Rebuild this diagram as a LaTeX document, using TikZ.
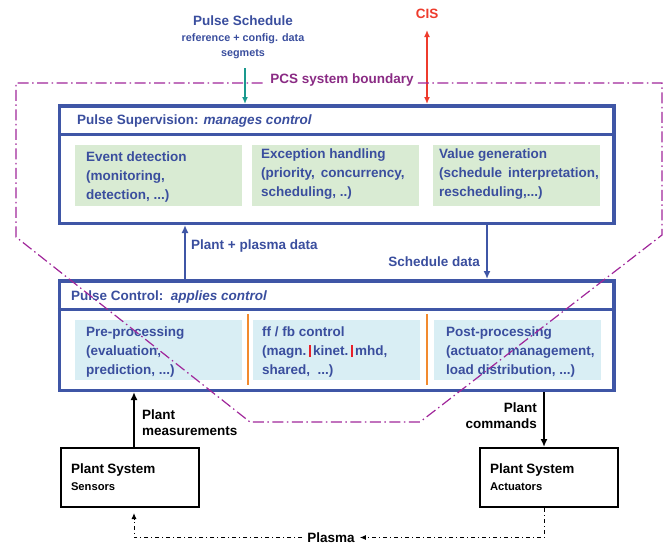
\documentclass[tikz,border=0pt]{standalone}
\usepackage{fontspec}
\setmainfont{Liberation Sans}
\usetikzlibrary{arrows.meta}

\definecolor{textblue}{HTML}{3A4E9E}
\definecolor{boxblue}{HTML}{3F56A6}
\definecolor{greenfill}{HTML}{D9EBD3}
\definecolor{bluefill}{HTML}{D9EEF4}
\definecolor{seporange}{HTML}{F28A2E}
\definecolor{barred}{HTML}{E8202A}
\definecolor{bndline}{HTML}{A0269A}
\definecolor{bndtext}{HTML}{8A2B84}
\definecolor{schedteal}{HTML}{1A998E}
\definecolor{cisred}{HTML}{EE3B2C}

% short red separator bar used inside the control box text
\newcommand{\ctlbar}{\textcolor{barred}{\rule[-1.5pt]{2.2pt}{12pt}}}

\tikzset{
  big/.style={font=\fontsize{13.5}{19}\selectfont\bfseries},
  small/.style={font=\fontsize{10.8}{15}\selectfont\bfseries},
  tier/.style={draw=boxblue, line width=3.5pt, inner sep=0pt},
  tierline/.style={draw=boxblue, line width=3pt},
  greenbox/.style={fill=greenfill, inner sep=0pt, anchor=north west},
  bluebox/.style={fill=bluefill, inner sep=0pt, anchor=north west},
  boxtext/.style={big, text=textblue, align=left, anchor=west, inner sep=0pt},
  bluearrow/.style={draw=boxblue, line width=2.8pt, -{Latex[length=8pt,width=7pt]}},
  blackarrow/.style={draw=black, line width=2pt, -{Latex[length=8pt,width=7pt]}},
  plantbox/.style={draw=black, line width=2pt, inner xsep=10pt, inner ysep=0pt,
    text width=118pt, align=left, minimum height=59pt, anchor=north west},
  plasmaline/.style={draw=black, line width=1pt,
    dash pattern=on 4pt off 3pt on 1pt off 3pt, -{Latex[length=6pt,width=5pt]}},
  boundary/.style={draw=bndline, line width=1.2pt,
    dash pattern=on 11pt off 3.5pt on 1.5pt off 3.5pt},
}

\begin{document}
\begin{tikzpicture}[x=1pt,y=-1pt]
\useasboundingbox (0,0) rectangle (671,546);

% ---- external sources ----
\node[big, text=textblue] (ps) at (243,21) {Pulse Schedule};
\node[small, text=textblue, align=center] (psdata) at (243,46.5) {reference + config. data\\segmets};
\node[big, text=cisred] (cis) at (427,14) {CIS};
\coordinate (psfoot) at (245,68);
\coordinate (cisfoot) at (427,30);

% ---- Pulse Supervision ----
\node[tier, minimum width=554.5pt, minimum height=117.5pt] (sup) at (336.75,164.5) {};
\coordinate (supsep) at (0,134);
\draw[tierline] (sup.west |- supsep) -- (sup.east |- supsep);
\node[big, text=textblue, anchor=west, inner sep=0pt] (suptitle) at (77,121)
  {Pulse Supervision: \textit{manages control}};

\node[greenbox, minimum width=167pt, minimum height=61pt] (ev) at (75,145) {};
\node[greenbox, minimum width=167pt, minimum height=61pt] (ex) at (252,145) {};
\node[greenbox, minimum width=167pt, minimum height=61pt] (vg) at (433,145) {};
\node[boxtext] (evt) at (86,177) {Event detection\\(monitoring,\\detection, ...)};
\node[boxtext] (ext) at (261,174) {Exception handling\\(priority,\ \,concurrency,\\scheduling, ..)};
\node[boxtext] (vgt) at (439,174) {Value generation\\(schedule\ \,interpretation,\\rescheduling,...)};

% ---- Pulse Control ----
\node[tier, minimum width=554.5pt, minimum height=109.5pt] (ctl) at (336.75,335.5) {};
\coordinate (ctlsep) at (0,309);
\draw[tierline] (ctl.west |- ctlsep) -- (ctl.east |- ctlsep);
\node[big, text=textblue, anchor=west, inner sep=0pt] (ctltitle) at (71,297)
  {Pulse Control:\ \ \textit{applies control}};

\node[bluebox, minimum width=167pt, minimum height=60pt] (pre) at (75,320) {};
\node[bluebox, minimum width=167pt, minimum height=60pt] (ff) at (253,320) {};
\node[bluebox, minimum width=167pt, minimum height=60pt] (post) at (434,320) {};
\node[boxtext] (pret) at (86,352) {Pre-processing\\(evaluation,\\prediction, ...)};
\node[boxtext] (fft) at (262,352) {ff / fb control\\(magn.\,\ctlbar\,kinet.\,\ctlbar\,mhd,\\shared,\ \ ...)};
\node[boxtext] (postt) at (446,352) {Post-processing\\(actuator management,\\load distribution, ...)};

\coordinate (o1) at (247.5,314);
\coordinate (o2) at (427,314);
\coordinate (obot) at (0,385);
\draw[seporange, line width=2pt] (o1) -- (o1 |- obot);
\draw[seporange, line width=2pt] (o2) -- (o2 |- obot);

% ---- data flow between the two tiers ----
\coordinate (upx) at (185,0);
\coordinate (downx) at (487,0);
\draw[bluearrow] (ctl.north -| upx) -- (sup.south -| upx);
\draw[bluearrow] (sup.south -| downx) -- (ctl.north -| downx);
\node[big, text=textblue, anchor=west, inner sep=0pt] (ppd) at (191,246) {Plant + plasma data};
\node[big, text=textblue, anchor=east, inner sep=0pt] (sd) at (480,262) {Schedule data};

% ---- inputs from the top ----
\draw[schedteal, line width=2pt, -{Latex[length=7pt,width=6pt]}] (psfoot) -- (sup.north -| psfoot);
\draw[cisred, line width=2pt, {Latex[length=7pt,width=6pt]}-{Latex[length=7pt,width=6pt]}] (cisfoot) -- (sup.north -| cisfoot);

% ---- plant systems ----
\node[plantbox] (sens) at (60,447) {\fontsize{13.5}{19}\selectfont\bfseries Plant System\\[5pt]\fontsize{11.2}{13}\selectfont\bfseries Sensors};
\node[plantbox] (act) at (479,447) {\fontsize{13.5}{19}\selectfont\bfseries Plant System\\[5pt]\fontsize{11.2}{13}\selectfont\bfseries Actuators};

\coordinate (mx) at (134,0);
\coordinate (cx) at (544,0);
\draw[blackarrow] (sens.north -| mx) -- (ctl.south -| mx);
\draw[blackarrow] (ctl.south -| cx) -- (act.north -| cx);
\node[big, align=left, anchor=west, inner sep=0pt,
  font=\fontsize{13.5}{16}\selectfont\bfseries] (pm) at (142,423) {Plant\\measurements};
\node[big, align=right, anchor=east, inner sep=0pt,
  font=\fontsize{13.5}{16}\selectfont\bfseries] (pc) at (537,416) {Plant\\commands};

% ---- plasma feedback loop ----
\node[big, inner xsep=5pt, inner ysep=1pt] (plasma) at (331,537.5) {Plasma};
\draw[plasmaline] (act.south -| cx) -- (cx |- plasma) -- (plasma.east);
\draw[plasmaline, shorten >=5pt] (plasma.west) -- (mx |- plasma) -- (sens.south -| mx);

% ---- PCS system boundary ----
\node[big, text=bndtext, inner xsep=4pt] (pcs) at (342,80) {PCS system boundary};
\coordinate (b1) at (662,83);
\coordinate (b2) at (662,235);
\coordinate (b3) at (420,422);
\coordinate (b4) at (250,422);
\coordinate (b5) at (16,237);
\coordinate (b6) at (16,83);
\draw[boundary] (pcs.east |- b1) -- (b1) -- (b2) -- (b3) -- (b4) -- (b5) -- (b6) -- (pcs.west |- b6);
\end{tikzpicture}
\end{document}
